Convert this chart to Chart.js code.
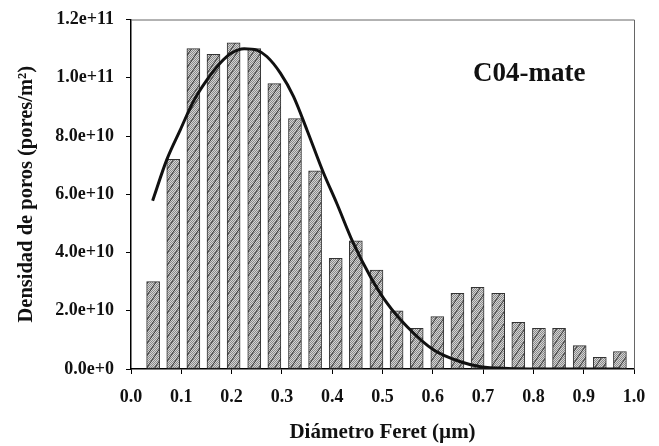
<!DOCTYPE html>
<html>
<head>
<meta charset="utf-8">
<script src="https://cdn.jsdelivr.net/npm/chart.js@4.4.1/dist/chart.umd.min.js"></script>
<style>
  html, body { margin: 0; padding: 0; background: #fff; }
  #wrap { width: 659px; height: 446px; position: relative; }
</style>
</head>
<body>
<div id="wrap"><canvas id="grafico"></canvas></div>
<script>
// Centros de clase (µm) y densidad de poros de cada barra
const binCenters = [0.044, 0.084, 0.124, 0.164, 0.204, 0.245, 0.285, 0.326, 0.366, 0.407, 0.447, 0.488,
                    0.528, 0.568, 0.609, 0.649, 0.689, 0.730, 0.770, 0.811, 0.851, 0.892, 0.932, 0.972];
const densidad = [3.0e10, 7.2e10, 1.10e11, 1.08e11, 1.12e11, 1.10e11, 9.8e10, 8.6e10, 6.8e10, 3.8e10, 4.4e10, 3.4e10,
                  2.0e10, 1.4e10, 1.8e10, 2.6e10, 2.8e10, 2.6e10, 1.6e10, 1.4e10, 1.4e10, 8.0e9, 4.0e9, 6.0e9];

// Curva ajustada
const curvaX = [0.043, 0.071, 0.098, 0.124, 0.151, 0.177, 0.200, 0.225, 0.250, 0.270, 0.297, 0.323, 0.350,
                0.383, 0.409, 0.442, 0.476, 0.509, 0.549, 0.602, 0.655, 0.695, 0.750, 0.850, 0.973];
const curvaY = [5.78e10, 7.18e10, 8.21e10, 9.19e10, 9.93e10, 1.05e11, 1.085e11, 1.10e11, 1.095e11, 1.073e11, 1.016e11, 9.36e10, 8.2e10,
                6.72e10, 5.69e10, 4.32e10, 3.17e10, 2.26e10, 1.45e10, 6.5e9, 2.5e9, 8e8, 2e8, 0, 0];

// Etiquetas de los ejes
const xTickLabels = ['0.0', '0.1', '0.2', '0.3', '0.4', '0.5', '0.6', '0.7', '0.8', '0.9', '1.0'];
const yTickLabels = ['0.0e+0', '2.0e+10', '4.0e+10', '6.0e+10', '8.0e+10', '1.0e+11', '1.2e+11'];

const fuente = "'Liberation Serif', 'Times New Roman', serif";

// Relleno punteado gris con rayado diagonal
function crearPatron() {
    const c = document.createElement('canvas');
    c.width = 8; c.height = 12;
    const g = c.getContext('2d');
    g.fillStyle = '#d4d4d4';
    g.fillRect(0, 0, 8, 12);
    g.fillStyle = '#8a8a8a';
    for (let i = 0; i < 8; i++) {
        for (let j = 0; j < 12; j++) {
            if ((i + j) % 2 === 0) g.fillRect(i, j, 1, 1);
        }
    }
    g.strokeStyle = '#333';
    g.lineWidth = 1;
    g.beginPath();
    g.moveTo(0, 12);
    g.lineTo(8, 0);
    g.stroke();
    return g.createPattern(c, 'repeat');
}

// Marco superior/derecho y rótulo de la muestra
const marco = {
    id: 'marco',
    afterDraw(chart) {
        const { ctx, chartArea: a } = chart;
        ctx.save();
        ctx.strokeStyle = '#666';
        ctx.lineWidth = 1;
        ctx.beginPath();
        ctx.moveTo(a.left, a.top + 0.5);
        ctx.lineTo(a.right + 0.5, a.top + 0.5);
        ctx.lineTo(a.right + 0.5, a.bottom);
        ctx.stroke();
        ctx.fillStyle = '#111';
        ctx.font = "bold 27px " + fuente;
        ctx.textBaseline = 'middle';
        ctx.textAlign = 'left';
        ctx.fillText('C04-mate', 473, 74);
        ctx.restore();
    }
};

const ctx = document.getElementById('grafico').getContext('2d');
new Chart(ctx, {
    type: 'bar',
    data: {
        datasets: [{
            type: 'line',
            data: curvaX.map((x, i) => ({ x: x, y: curvaY[i] })),
            borderColor: '#111',
            borderWidth: 3,
            pointRadius: 0,
            cubicInterpolationMode: 'monotone',
            fill: false,
            order: 0
        }, {
            type: 'bar',
            data: binCenters.map((x, i) => ({ x: x, y: densidad[i] })),
            backgroundColor: crearPatron(),
            borderColor: '#333',
            borderWidth: 1,
            borderSkipped: false,
            barThickness: 13,
            order: 1
        }]
    },
    options: {
        responsive: true,
        maintainAspectRatio: false,
        animation: false,
        layout: { padding: { left: 0, right: 25, top: 19.5, bottom: 0 } },
        plugins: {
            legend: { display: false },
            tooltip: { enabled: false }
        },
        scales: {
            x: {
                type: 'linear',
                min: 0,
                max: 1.0,
                offset: false,
                afterFit(scale) { scale.height = 77; scale.paddingLeft = 0; scale.paddingRight = 0; },
                border: { color: '#000', width: 1.5 },
                grid: { display: true, offset: false, drawOnChartArea: false, drawTicks: true, tickLength: 5, color: '#000' },
                ticks: {
                    stepSize: 0.1,
                    padding: 13,
                    color: '#111',
                    font: { family: fuente, size: 18, weight: 'bold' },
                    callback: (v, i) => xTickLabels[i]
                },
                title: {
                    display: true,
                    text: 'Diámetro Feret (µm)',
                    color: '#111',
                    font: { family: fuente, size: 21, weight: 'bold' },
                    padding: { top: 0, bottom: 1 }
                }
            },
            y: {
                min: 0,
                max: 1.2e11,
                afterFit(scale) { scale.width = 131; scale.paddingTop = 0; scale.paddingBottom = 0; },
                border: { color: '#000', width: 1.5 },
                grid: { display: true, drawOnChartArea: false, drawTicks: true, tickLength: 5, color: '#000' },
                ticks: {
                    stepSize: 2e10,
                    padding: 12,
                    color: '#111',
                    font: { family: fuente, size: 18, weight: 'bold' },
                    callback: (v, i) => yTickLabels[i]
                },
                title: {
                    display: true,
                    text: 'Densidad de poros (pores/m²)',
                    color: '#111',
                    font: { family: fuente, size: 20.5, weight: 'bold' },
                    padding: { top: 14, bottom: 0 }
                }
            }
        }
    },
    plugins: [marco]
});
</script>
</body>
</html>
